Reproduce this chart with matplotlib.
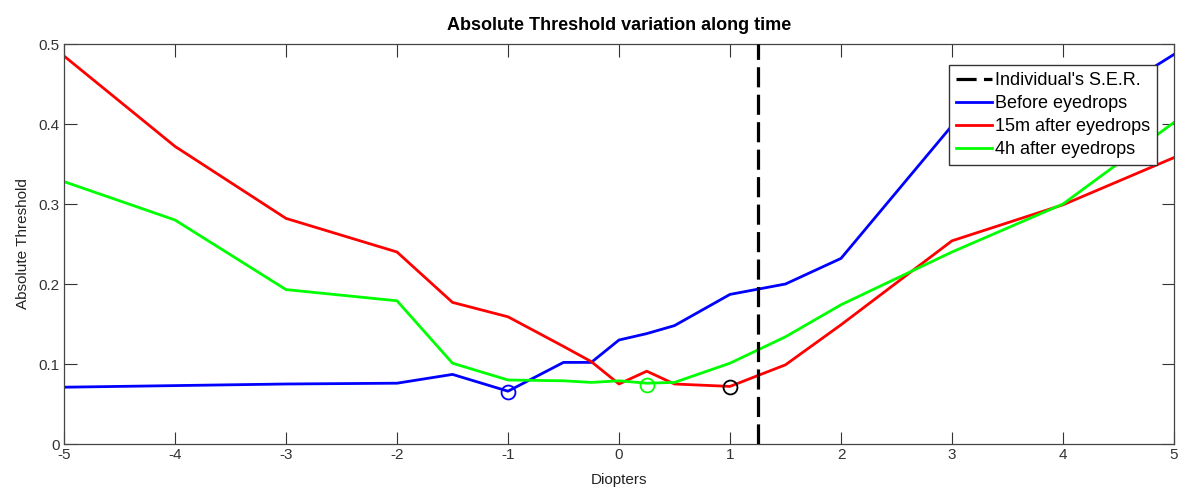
import matplotlib
matplotlib.use("Agg")
import matplotlib.pyplot as plt

plt.rcParams['font.family'] = ['Liberation Sans', 'DejaVu Sans']

# Data
x_before = [-5, -4, -3, -2, -1.5, -1, -0.5, -0.25, 0, 0.25, 0.5, 1, 1.5, 2, 3, 4, 5]
y_before = [0.071, 0.073, 0.075, 0.076, 0.087, 0.066, 0.102, 0.102, 0.130, 0.138, 0.148,
            0.187, 0.200, 0.232, 0.398, 0.400, 0.487]

x_15m = [-5, -4, -3, -2, -1.5, -1, -0.5, -0.25, 0, 0.25, 0.5, 1, 1.5, 2, 3, 4, 5]
y_15m = [0.485, 0.372, 0.282, 0.240, 0.177, 0.159, 0.122, 0.103, 0.075, 0.091, 0.075,
         0.072, 0.099, 0.149, 0.254, 0.299, 0.358]

x_4h = [-5, -4, -3, -2, -1.5, -1, -0.5, -0.25, 0, 0.25, 0.5, 1, 1.5, 2, 3, 4, 5]
y_4h = [0.328, 0.280, 0.193, 0.179, 0.101, 0.080, 0.079, 0.077, 0.079, 0.076, 0.077,
        0.101, 0.134, 0.174, 0.240, 0.300, 0.402]

ser_x = 1.25
min_before = (-1, 0.065)
min_4h = (0.25, 0.074)
min_15m = (1, 0.071)

title = "Absolute Threshold variation along time"
xlabel = "Diopters"
ylabel = "Absolute Threshold"
legend_labels = ["Individual's S.E.R.", "Before eyedrops", "15m after eyedrops", "4h after eyedrops"]
xticks = [-5, -4, -3, -2, -1, 0, 1, 2, 3, 4, 5]
yticks = [0, 0.1, 0.2, 0.3, 0.4, 0.5]
ytick_labels = ["0", "0.1", "0.2", "0.3", "0.4", "0.5"]

fig = plt.figure(figsize=(11.84, 4.92), dpi=100)
ax = fig.add_axes([64/1184, 1-444/492, 1110/1184, 400/492])

lw = 2.0
ser_line = ax.axvline(ser_x, color='black', lw=2.3, linestyle=(0, (6.3, 2.3)), zorder=3)
l1, = ax.plot(x_before, y_before, color=(0, 0, 1), lw=lw)
l2, = ax.plot(x_15m, y_15m, color=(1, 0, 0), lw=lw)
l3, = ax.plot(x_4h, y_4h, color=(0, 1, 0), lw=lw)

ax.plot([min_before[0]], [min_before[1]], 'o', mfc='none', mec=(0, 0, 1), ms=10, mew=1.3)
ax.plot([min_4h[0]], [min_4h[1]], 'o', mfc='none', mec=(0, 1, 0), ms=10, mew=1.3)
ax.plot([min_15m[0]], [min_15m[1]], 'o', mfc='none', mec='black', ms=10, mew=1.3)

ax.set_xlim(-5, 5)
ax.set_ylim(0, 0.5)
ax.set_xticks(xticks)
ax.set_xticklabels([str(t) for t in xticks])
ax.set_yticks(yticks)
ax.set_yticklabels(ytick_labels)
ax.tick_params(direction='in', top=True, right=True, length=9, width=0.8,
               colors='#333333', labelsize=11, pad=3)
for s in ax.spines.values():
    s.set_color('#444444')
    s.set_linewidth(0.9)

ax.set_title(title, fontsize=13, fontweight='bold', pad=10)
ax.set_xlabel(xlabel, fontsize=11, color='#222222', labelpad=8)
ax.set_ylabel(ylabel, fontsize=11, color='#222222', labelpad=6)

leg = ax.legend([ser_line, l1, l2, l3], legend_labels, loc='upper right',
                bbox_to_anchor=(0.9847, 0.9475), fontsize=13, frameon=True,
                fancybox=False, framealpha=1, edgecolor='#333333',
                handlelength=2.0, handletextpad=0.15, borderpad=0.4,
                labelspacing=0.33, borderaxespad=0)
leg.get_frame().set_linewidth(1.0)

fig.savefig("out.png", dpi=100)
